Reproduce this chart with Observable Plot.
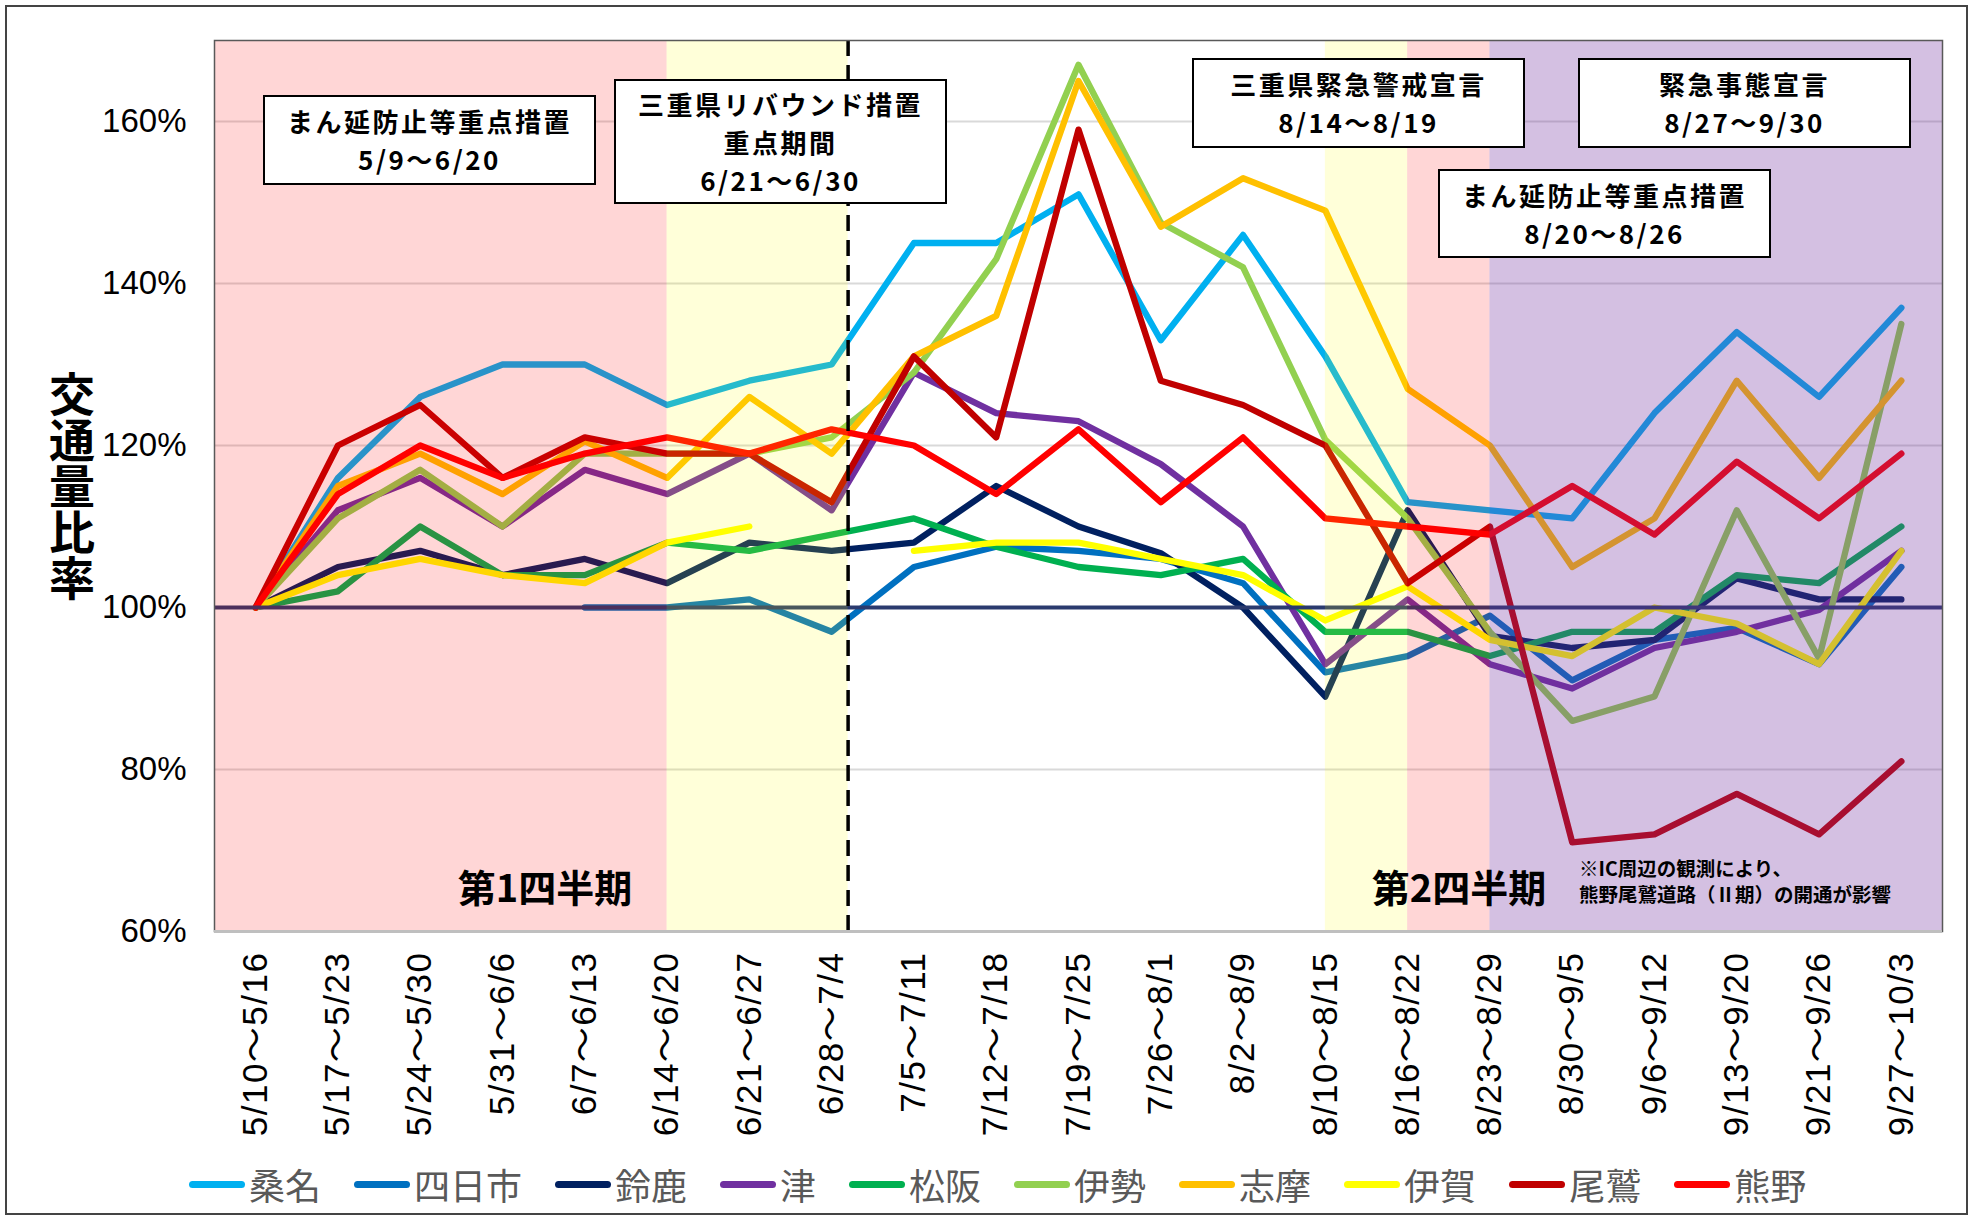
<!DOCTYPE html>
<html><head><meta charset="utf-8">
<script src="https://cdn.jsdelivr.net/npm/d3@7"></script>
<script src="https://cdn.jsdelivr.net/npm/@observablehq/plot@0.6"></script>
<style>
body{margin:0;background:#fff;}
#wrap{position:relative;width:1977px;height:1218px;overflow:hidden;font-family:"Noto Sans CJK JP",sans-serif;}
.box{position:absolute;background:#fff;border:2px solid #000;box-sizing:border-box;display:flex;flex-direction:column;justify-content:center;align-items:center;font-weight:700;font-size:26px;letter-spacing:2.5px;line-height:38px;color:#000;}
.lbl{position:absolute;font-weight:700;color:#000;white-space:nowrap;}
#legend{position:absolute;left:189px;top:1152px;height:64px;display:flex;align-items:center;gap:33px;color:#595959;font-size:36px;}
#legend .it{display:flex;align-items:center;gap:4px;}
#legend .sw{width:56px;height:7px;border-radius:4px;}
#border{position:absolute;left:5px;top:5px;width:1963px;height:1210px;border:2px solid #444;box-sizing:border-box;pointer-events:none;}
#chart svg [aria-label^="x-axis"] text{font-size:35px;letter-spacing:1.5px;}
</style></head>
<body><div id="wrap"><div id="chart"></div></div>
<script>
const weeks = ["5/10～5/16","5/17～5/23","5/24～5/30","5/31～6/6","6/7～6/13","6/14～6/20","6/21～6/27","6/28～7/4","7/5～7/11","7/12～7/18","7/19～7/25","7/26～8/1","8/2～8/9","8/10～8/15","8/16～8/22","8/23～8/29","8/30～9/5","9/6～9/12","9/13～9/20","9/21～9/26","9/27～10/3"];
const names = ["桑名","四日市","鈴鹿","津","松阪","伊勢","志摩","伊賀","尾鷲","熊野"];
const colors = ["#00B0F0","#0070C0","#002060","#7030A0","#00B050","#92D050","#FFC000","#FFFF00","#C00000","#FF0000"];
const kuwana   = [100,116,126,130,130,125,128,130,145,145,151,133,146,131,113,112,111,124,134,126,137];
const yokkaichi= [null,null,null,null,100,100,101,97,105,107.5,107,106,103,92,94,99,91,96,97.5,93,105];
const suzuka   = [100,105,107,104,106,103,108,107,108,115,110,106.7,100,89,112,96.5,95,96,103.6,101,101];
const tsu      = [100,112,116,110,117,114,119,112,129,124,123,117.7,110,93,101,93,90,95,97,99.7,107];
const matsusaka= [100,102,110,104,104,108,107,109,111,107.5,105,104,106,97,97,94,97,97,104,103,110];
const ise      = [100,111,117,110,119,119,119,121,129,143,167,147.5,142,120.7,111,97,86,89,112,93.7,135];
const shima    = [100,115,119,114,120.5,116,126,119,131,136,165,147,153,149,127,120,105,111,128,116,128];
const iga      = [100,104,106,104,103,108,110,null,107,108,108,106,104,98.4,102.6,96,94,100,98,93,107];
const owase    = [100,120,125,116,121,119,119,113,131,121,159,128,125,120,103,110,71,72,77,72,81];
const kumano   = [100,114,120,116,119,121,119,122,120,114,122,113,121,111,110,109,115,109,118,111,119];
const seriesValues = [kuwana,yokkaichi,suzuka,tsu,matsusaka,ise,shima,iga,owase,kumano];
const yTicks = [60,80,100,120,140,160];
const gridVals = [80,120,140,160];
// period shading, in week-index units
const pinkBands = [{x1:-0.5,x2:5},{x1:14,x2:15}];
const yellowBands = [{x1:5,x2:7.2},{x1:13,x2:14}];
const purpleBands = [{x1:15,x2:20.5}];
const quarterSplit = [7.2];

const rows = names.flatMap((n,k)=>seriesValues[k].map((v,i)=>({name:n,i,v:v==null?NaN:v})));

const chart = Plot.plot({
  width:1977, height:1150,
  marginLeft:214, marginRight:35, marginTop:40, marginBottom:219,
  style:{fontSize:"33px",fontFamily:"'Liberation Sans','Noto Sans CJK JP',sans-serif",color:"#000",background:"transparent",overflow:"visible"},
  x:{type:"linear",domain:[-0.5,20.5],ticks:d3.range(weeks.length),tickFormat:i=>weeks[i],tickRotate:-90,tickSize:0,tickPadding:20,label:null},
  y:{domain:[60,170],ticks:yTicks,tickFormat:d=>d+"%",tickSize:0,tickPadding:28,label:null},
  color:{domain:names,range:colors},
  marks:[
    Plot.ruleY(gridVals,{stroke:"#D9D9D9",strokeWidth:2}),
    Plot.lineY(rows,{x:"i",y:"v",z:"name",stroke:"name",strokeWidth:6.3,strokeLinejoin:"round",strokeLinecap:"round"}),
    Plot.ruleY([100],{stroke:"#2A3A6E",strokeWidth:4}),
    Plot.rect(pinkBands,{x1:"x1",x2:"x2",fill:"#FF0000",fillOpacity:0.16}),
    Plot.rect(yellowBands,{x1:"x1",x2:"x2",fill:"#FFFF00",fillOpacity:0.15}),
    Plot.rect(purpleBands,{x1:"x1",x2:"x2",fill:"#7030A0",fillOpacity:0.3}),
    Plot.ruleX(quarterSplit,{stroke:"#000",strokeWidth:3.5,strokeDasharray:"16,9"}),
    Plot.frame({stroke:"#595959",strokeWidth:1.5}),
    Plot.ruleY([60],{stroke:"#BFBFBF",strokeWidth:3})
  ]
});
document.getElementById("chart").appendChild(chart);

const wrap = document.getElementById("wrap");
function add(html){const d=document.createElement("div");d.innerHTML=html;while(d.firstChild)wrap.appendChild(d.firstChild);}
add(`<div class="box" style="left:263px;top:95px;width:333px;height:90px;"><div>まん延防止等重点措置</div><div>5/9～6/20</div></div>`);
add(`<div class="box" style="left:614px;top:79px;width:333px;height:125px;"><div>三重県リバウンド措置</div><div>重点期間</div><div>6/21～6/30</div></div>`);
add(`<div class="box" style="left:1192px;top:58px;width:333px;height:90px;"><div>三重県緊急警戒宣言</div><div>8/14～8/19</div></div>`);
add(`<div class="box" style="left:1578px;top:58px;width:333px;height:90px;"><div>緊急事態宣言</div><div>8/27～9/30</div></div>`);
add(`<div class="box" style="left:1438px;top:169px;width:333px;height:89px;"><div>まん延防止等重点措置</div><div>8/20～8/26</div></div>`);
add(`<div class="lbl" style="left:545px;top:885px;transform:translate(-50%,-50%);font-size:38px;">第1四半期</div>`);
add(`<div class="lbl" style="left:1459px;top:885px;transform:translate(-50%,-50%);font-size:38px;">第2四半期</div>`);
add(`<div class="lbl" style="left:1579px;top:855px;font-size:19.5px;line-height:26px;">※IC周辺の観測により、<br>熊野尾鷲道路（Ⅱ期）の開通が影響</div>`);
add(`<div class="lbl" style="left:72px;top:486px;transform:translate(-50%,-50%);font-size:46px;writing-mode:vertical-rl;text-orientation:upright;line-height:50px;">交通量比率</div>`);
const lg = names.map((n,k)=>`<div class="it"><div class="sw" style="background:${colors[k]}"></div><span>${n}</span></div>`).join("");
add(`<div id="legend">${lg}</div>`);
add(`<div id="border"></div>`);
</script></body></html>
